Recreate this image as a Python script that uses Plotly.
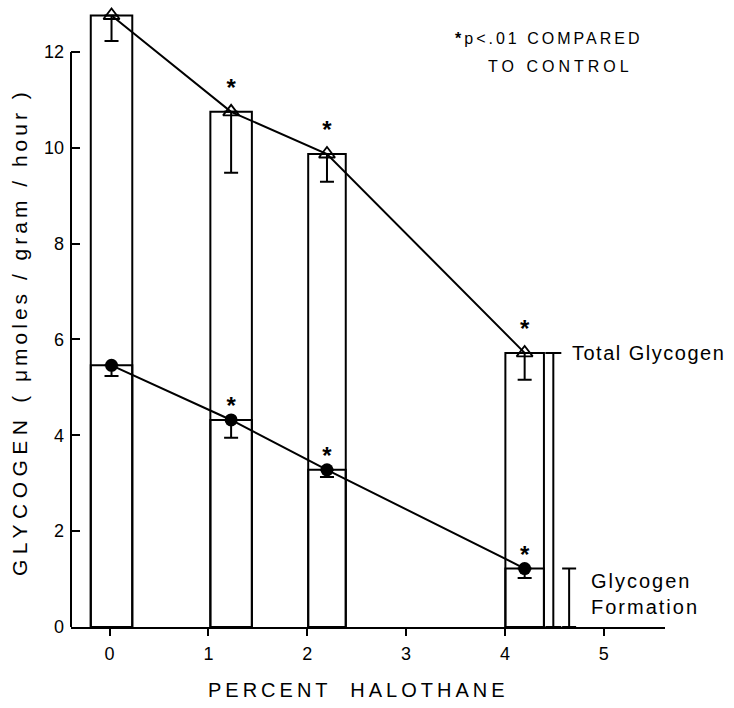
import plotly.graph_objects as go

# ---- data ----
halothane = [0.02, 1.23, 2.2, 4.2]          # percent halothane (x positions)
bar_width = [0.42, 0.42, 0.38, 0.39]
total_glycogen = [12.76, 10.75, 9.87, 5.72]
total_err_minus = [0.53, 1.27, 0.58, 0.56]
glycogen_formation = [5.46, 4.32, 3.28, 1.22]
formation_err_minus = [0.22, 0.37, 0.15, 0.2]
significance = ["", "*", "*", "*"]
x_ticks = [0, 1, 2, 3, 4, 5]
y_ticks = [0, 2, 4, 6, 8, 10, 12]

FONT = "Liberation Sans"
BLACK = "black"

fig = go.Figure()

# open bars (total glycogen) and inner level line (glycogen formation)
fig.add_trace(go.Bar(x=halothane, y=total_glycogen, width=bar_width,
                     marker=dict(color="rgba(0,0,0,0)", line=dict(color=BLACK, width=2)),
                     showlegend=False, hoverinfo="skip"))
fig.add_trace(go.Bar(x=halothane, y=glycogen_formation, width=bar_width,
                     marker=dict(color="rgba(0,0,0,0)", line=dict(color=BLACK, width=2)),
                     showlegend=False, hoverinfo="skip"))

star_font = dict(family=FONT, size=24, color=BLACK, weight="bold")

# total glycogen line with open triangles
fig.add_trace(go.Scatter(
    x=halothane, y=total_glycogen, mode="lines+markers+text",
    line=dict(color=BLACK, width=2),
    marker=dict(symbol="triangle-up-open", size=14, color=BLACK, line=dict(width=1.8, color=BLACK)),
    error_y=dict(type="data", symmetric=False, array=[0] * 4, arrayminus=total_err_minus,
                 color=BLACK, thickness=2, width=7),
    text=significance, textposition="top center", textfont=star_font,
    showlegend=False))

# glycogen formation line with filled circles
fig.add_trace(go.Scatter(
    x=halothane, y=glycogen_formation, mode="lines+markers",
    line=dict(color=BLACK, width=2),
    marker=dict(symbol="circle", size=13, color=BLACK),
    error_y=dict(type="data", symmetric=False, array=[0] * 4, arrayminus=formation_err_minus,
                 color=BLACK, thickness=2, width=7),
    showlegend=False))
# significance stars for glycogen formation
fig.add_trace(go.Scatter(
    x=halothane, y=glycogen_formation, mode="text",
    text=significance, textposition="top center", textfont=star_font,
    showlegend=False, hoverinfo="skip"))

# key brackets at right (scaled to last bar values)
fig.add_trace(go.Scatter(x=[4.49], y=[0], mode="markers", marker=dict(size=1, color="rgba(0,0,0,0)"),
                         error_y=dict(type="data", symmetric=False, array=[total_glycogen[-1]],
                                      arrayminus=[0], color=BLACK, thickness=2, width=8),
                         showlegend=False, hoverinfo="skip"))
fig.add_trace(go.Scatter(x=[4.65], y=[0], mode="markers", marker=dict(size=1, color="rgba(0,0,0,0)"),
                         error_y=dict(type="data", symmetric=False, array=[glycogen_formation[-1]],
                                      arrayminus=[0], color=BLACK, thickness=2, width=7),
                         showlegend=False, hoverinfo="skip"))

# y axis line only up to 12
fig.add_shape(type="line", xref="x domain", yref="y", x0=0, x1=0, y0=0, y1=12,
              line=dict(color=BLACK, width=2))

annotations = [
    dict(text='<span style="letter-spacing:5.5px">GLYCOGEN</span>  <span style="letter-spacing:4px">( μmoles / gram / hour )</span>',
         xref="paper", yref="paper", x=(19 - 71) / 594, y=(627 - 332) / 623, textangle=-90,
         showarrow=False, xanchor="center", yanchor="middle",
         font=dict(family=FONT, size=21, color=BLACK)),
    dict(text='<span style="letter-spacing:4px">PERCENT  HALOTHANE</span>',
         xref="paper", yref="paper", x=(358 - 71) / 594, y=(627 - 690) / 623,
         showarrow=False, xanchor="center", yanchor="middle",
         font=dict(family=FONT, size=20, color=BLACK)),
    dict(text='<span style="letter-spacing:3px"><b>*</b>p&lt;.01 COMPARED</span>',
         xref="paper", yref="paper", x=(548 - 71) / 594, y=(627 - 38) / 623,
         showarrow=False, xanchor="center", yanchor="middle",
         font=dict(family=FONT, size=16, color=BLACK)),
    dict(text='<span style="letter-spacing:4px">TO CONTROL</span>',
         xref="paper", yref="paper", x=(560 - 71) / 594, y=(627 - 66) / 623,
         showarrow=False, xanchor="center", yanchor="middle",
         font=dict(family=FONT, size=16, color=BLACK)),
    dict(text='<span style="letter-spacing:1.5px">Total Glycogen</span>',
         xref="x", yref="y", x=4.656, y=total_glycogen[-1],
         showarrow=False, xanchor="left", yanchor="middle",
         font=dict(family=FONT, size=20, color=BLACK)),
    dict(text='<span style="letter-spacing:2px">Glycogen<br>Formation</span>',
         xref="x", yref="y", x=4.85, y=0.69, align="left",
         showarrow=False, xanchor="left", yanchor="middle",
         font=dict(family=FONT, size=20, color=BLACK)),
]

fig.update_layout(
    width=734, height=708,
    margin=dict(l=71, r=69, t=4, b=81, autoexpand=False),
    paper_bgcolor="white", plot_bgcolor="white",
    barmode="overlay",
    annotations=annotations,
    font=dict(family=FONT, color=BLACK),
    xaxis=dict(range=[-0.39, 5.62], tickvals=x_ticks, ticks="outside", ticklen=7, tickwidth=2,
               tickcolor=BLACK, showline=True, linecolor=BLACK, linewidth=2,
               showgrid=False, zeroline=False, tickfont=dict(family=FONT, size=18, color=BLACK),
               ticklabelstandoff=2, automargin=False),
    yaxis=dict(range=[0, 13.0], tickvals=y_ticks, ticks="inside", ticklen=9, tickwidth=2,
               tickcolor=BLACK, showline=False, showgrid=False, zeroline=False,
               tickfont=dict(family=FONT, size=18, color=BLACK), ticklabelstandoff=6,
               automargin=False),
)

fig.write_html("out.html", config={"displayModeBar": False},
               post_script="document.body.style.margin='0';document.body.style.overflow='hidden';")
